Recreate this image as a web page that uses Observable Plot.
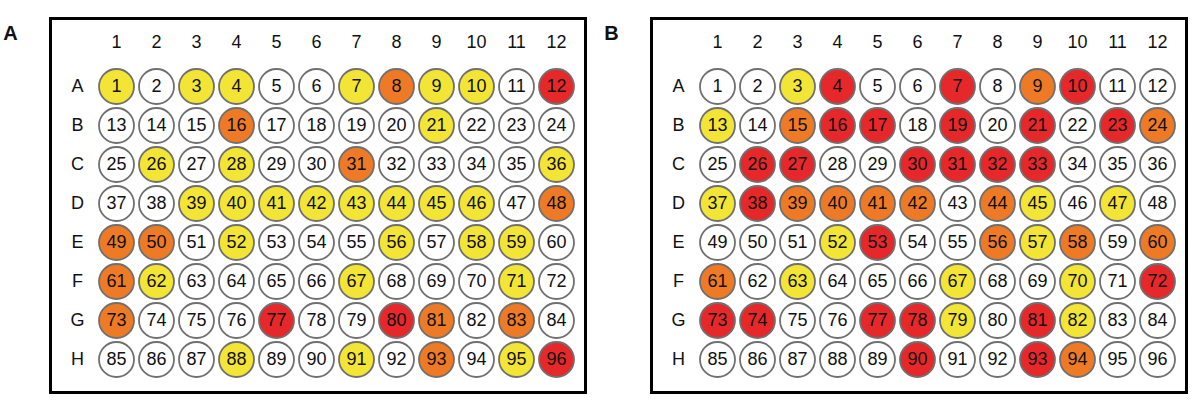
<!DOCTYPE html>
<html>
<head>
<meta charset="utf-8">
<script src="https://cdn.jsdelivr.net/npm/d3@7"></script>
<script src="https://cdn.jsdelivr.net/npm/@observablehq/plot@0.6"></script>
<style>
  html, body { margin: 0; padding: 0; background: #fff; }
  #chart svg { display: block; }
</style>
</head>
<body>
<div id="chart"></div>
<script>
const panels = ["A", "B"];
const rows = ["A", "B", "C", "D", "E", "F", "G", "H"];
const cols = [1, 2, 3, 4, 5, 6, 7, 8, 9, 10, 11, 12];
// 0 = none (white), 1 = yellow, 2 = orange, 3 = red
const levelsA = [
  1,0,1,1,0,0,1,2,1,1,0,3,
  0,0,0,2,0,0,0,0,1,0,0,0,
  0,1,0,1,0,0,2,0,0,0,0,1,
  0,0,1,1,1,1,1,1,1,1,0,2,
  2,2,0,1,0,0,0,1,0,1,1,0,
  2,1,0,0,0,0,1,0,0,0,1,0,
  2,0,0,0,3,0,0,3,2,0,2,0,
  0,0,0,1,0,0,1,0,2,0,1,3
];
const levelsB = [
  0,0,1,3,0,0,3,0,2,3,0,0,
  1,0,2,3,3,0,3,0,3,0,3,2,
  0,3,3,0,0,3,3,3,3,0,0,0,
  1,3,2,2,2,2,0,2,1,0,1,0,
  0,0,0,1,3,0,0,2,1,2,0,2,
  2,0,1,0,0,0,1,0,0,1,0,3,
  3,3,0,0,3,3,1,0,3,1,0,0,
  0,0,0,0,0,3,0,0,3,2,0,0
];
const levelColors = ["#ffffff", "#f3e535", "#ee7a26", "#e6282b"];

const wells = [];
[levelsA, levelsB].forEach((levels, p) => {
  levels.forEach((lv, i) => {
    wells.push({panel: panels[p], row: rows[Math.floor(i / 12)], col: cols[i % 12], well: i + 1, level: lv});
  });
});
const colLabels = panels.flatMap(p => cols.map(c => ({panel: p, col: c})));
const rowLabels = panels.flatMap(p => rows.map(r => ({panel: p, row: r})));
const panelLabels = panels.map(p => ({panel: p}));

const font = "'Liberation Sans', Arial, sans-serif";

const chart = Plot.plot({
  width: 1199,
  height: 404,
  marginTop: 18,
  marginBottom: 12,
  marginLeft: 50,
  marginRight: 13,
  style: {fontFamily: font, background: "#fff"},
  fx: {domain: panels, paddingInner: 0.11, paddingOuter: 0, axis: null},
  x: {type: "point", domain: cols, padding: 0, insetLeft: 65, insetRight: 28, axis: null},
  y: {type: "point", domain: rows, padding: 0, insetTop: 65, insetBottom: 30, axis: null},
  color: {type: "ordinal", domain: [0, 1, 2, 3], range: levelColors},
  marks: [
    Plot.dot(wells, {fx: "panel", x: "col", y: "row", r: 17.5, fill: "level", stroke: "#707070", strokeWidth: 1.8}),
    Plot.text(wells, {fx: "panel", x: "col", y: "row", text: "well", fontSize: 18, fill: "#111"}),
    Plot.text(colLabels, {fx: "panel", x: "col", text: "col", frameAnchor: "top", dy: 24, fontSize: 18, fill: "#111", lineAnchor: "middle"}),
    Plot.text(rowLabels, {fx: "panel", y: "row", text: "row", frameAnchor: "left", dx: 27, fontSize: 18, fill: "#111", textAnchor: "middle"}),
    Plot.text(panelLabels, {fx: "panel", text: "panel", frameAnchor: "top-left", dx: -40, dy: 15, fontSize: 20, fontWeight: "bold", fill: "#111", textAnchor: "middle", lineAnchor: "middle"}),
    Plot.frame({stroke: "#000", strokeWidth: 3})
  ]
});
document.getElementById("chart").append(chart);
</script>
</body>
</html>
